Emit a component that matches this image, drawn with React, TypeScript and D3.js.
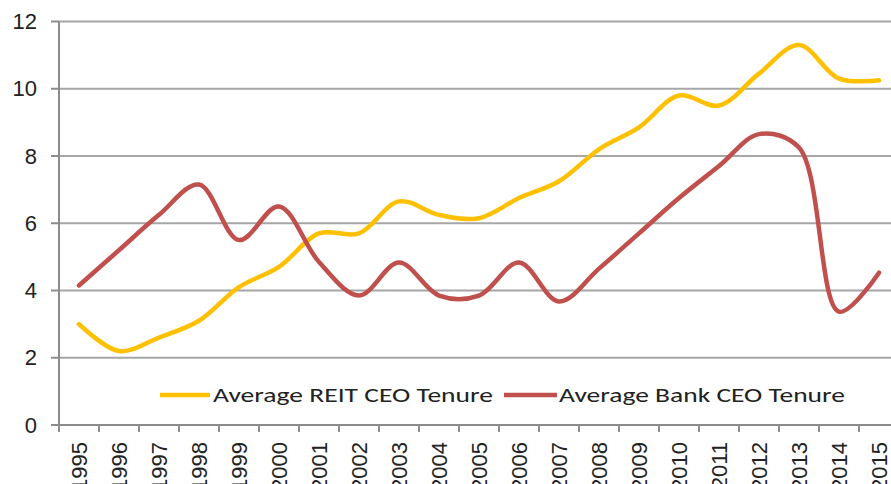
import React from "react";
import * as d3 from "d3";

const years = ["1995","1996","1997","1998","1999","2000","2001","2002","2003","2004","2005","2006","2007","2008","2009","2010","2011","2012","2013","2014","2015"];
const reitTenure = [3.0,2.2,2.6,3.1,4.1,4.7,5.7,5.7,6.65,6.25,6.15,6.75,7.25,8.2,8.85,9.8,9.5,10.45,11.3,10.3,10.25];
const bankTenure = [4.15,5.2,6.25,7.15,5.5,6.5,4.85,3.85,4.83,3.85,3.85,4.83,3.67,4.65,5.7,6.75,7.7,8.65,8.25,3.37,4.53];
const yTicks = [0,2,4,6,8,10,12];
const seriesNames = ["Average REIT CEO Tenure","Average Bank CEO Tenure"];
const seriesColors = ["#FFC000","#C0504D"];

export default function App() {
  const W = 891, H = 484;
  const x = d3.scaleBand<string>().domain(years).range([59, 899]);
  const y = d3.scaleLinear().domain([0, 12]).range([425, 21.5]);
  const line = d3.line<number>()
    .x((_, i) => (x(years[i]) as number) + x.bandwidth() / 2)
    .y((d) => y(d))
    .curve(d3.curveCatmullRom.alpha(0.5));
  const series = [reitTenure, bankTenure];
  const legendItems = [
    { lx1: 160, lx2: 210, tx: 213, tl: 280 },
    { lx1: 504, lx2: 557, tx: 559, tl: 286 },
  ];
  return (
    <svg width={W} height={H} style={{ position: "fixed", left: 0, top: 0, background: "#fff" }}>
      {yTicks.map((t) => (
        <g key={t}>
          {t > 0 && <line x1={59} x2={W} y1={y(t)} y2={y(t)} stroke="#a6a6a6" strokeWidth={2} />}
          <line x1={51} x2={59} y1={y(t)} y2={y(t)} stroke="#8c8c8c" strokeWidth={2} />
          <text x={37} y={y(t)} textAnchor="end" dominantBaseline="central" fontFamily="Liberation Sans, Arial, sans-serif" fontSize={22} fill="#222">{t}</text>
        </g>
      ))}
      <line x1={59} x2={59} y1={y(12)} y2={432} stroke="#8c8c8c" strokeWidth={2} />
      <line x1={59} x2={W} y1={y(0)} y2={y(0)} stroke="#8c8c8c" strokeWidth={2} />
      {years.map((yr) => {
        const x0 = x(yr) as number;
        const cx = x0 + x.bandwidth() / 2;
        return (
          <g key={yr}>
            <line x1={x0 + x.bandwidth()} x2={x0 + x.bandwidth()} y1={425} y2={432} stroke="#8c8c8c" strokeWidth={2} />
            <text transform={`translate(${cx},442) rotate(-90)`} textAnchor="end" dominantBaseline="central" fontFamily="Liberation Sans, Arial, sans-serif" fontSize={22} fill="#222">{yr}</text>
          </g>
        );
      })}
      {series.map((s, i) => (
        <path key={i} d={line(s) || ""} fill="none" stroke={seriesColors[i]} strokeWidth={4.5} strokeLinecap="round" strokeLinejoin="round" />
      ))}
      {legendItems.map((L, i) => (
        <g key={i}>
          <line x1={L.lx1} x2={L.lx2} y1={395} y2={395} stroke={seriesColors[i]} strokeWidth={4.5} />
          <text x={L.tx} y={402} fontFamily="Carlito, Lato, sans-serif" fontSize={21} fill="#222" textLength={L.tl} lengthAdjust="spacingAndGlyphs">{seriesNames[i]}</text>
        </g>
      ))}
    </svg>
  );
}
